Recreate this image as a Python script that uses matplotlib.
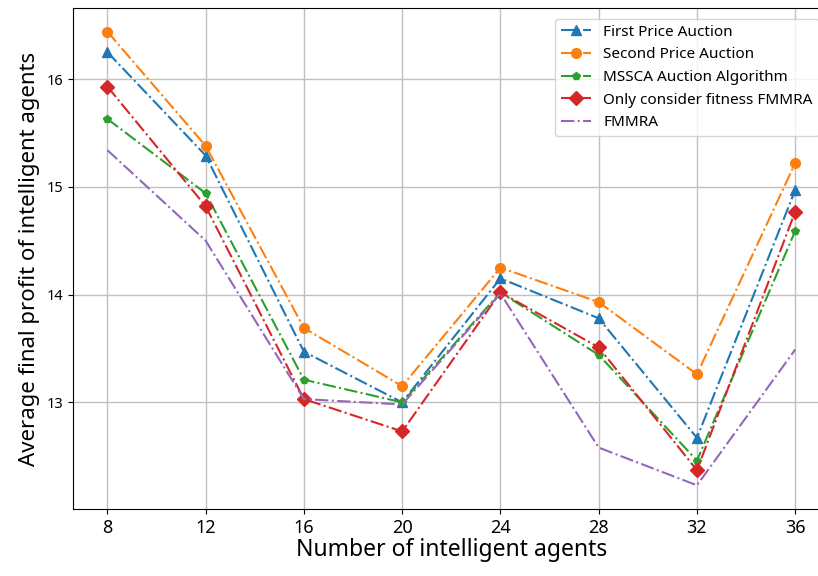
import numpy as np
import matplotlib.pyplot as plt

plt.rcParams['font.family'] = ['Noto Sans', 'DejaVu Sans']

agents = [8, 12, 16, 20, 24, 28, 32, 36]
first_price = [16.25, 15.29, 13.47, 13.00, 14.15, 13.78, 12.67, 14.97]
second_price = [16.44, 15.38, 13.69, 13.15, 14.25, 13.93, 13.26, 15.22]
mssca = [15.63, 14.94, 13.21, 13.00, 14.02, 13.44, 12.46, 14.59]
fitness_only = [15.93, 14.82, 13.03, 12.73, 14.02, 13.51, 12.37, 14.77]
fmmra = [15.34, 14.50, 13.03, 12.98, 14.01, 12.58, 12.23, 13.49]

fig = plt.figure(figsize=(8.18, 5.76), dpi=100)
ax = fig.add_axes([0.0892, 0.1163, 0.925, 0.870])

ax.plot(agents, first_price, '^-.', color='tab:blue', markersize=7, label='First Price Auction')
ax.plot(agents, second_price, 'o-.', color='tab:orange', markersize=7, label='Second Price Auction')
ax.plot(agents, mssca, 'p-.', color='tab:green', markersize=6, label='MSSCA Auction Algorithm')
ax.plot(agents, fitness_only, 'D-.', color='tab:red', markersize=7, label='Only consider fitness FMMRA')
ax.plot(agents, fmmra, '-.', color='tab:purple', label='FMMRA')

ax.set_xticks(agents)
ax.set_yticks([13, 14, 15, 16])
ax.set_xlim(6.6, 37.4)
ax.set_ylim(12.01, 16.66)
ax.tick_params(axis='x', labelsize=13)
ax.tick_params(axis='y', labelsize=10.5)
ax.grid(True, color='#c0c0c0', linewidth=1)
ax.set_xlabel('Number of intelligent agents', fontsize=16.5, labelpad=1)
ax.set_ylabel('Average final profit of intelligent agents', fontsize=16, labelpad=5)
ax.legend(loc='upper right', fontsize=11, borderaxespad=0.7)

fig.savefig('out.png', dpi=100)
